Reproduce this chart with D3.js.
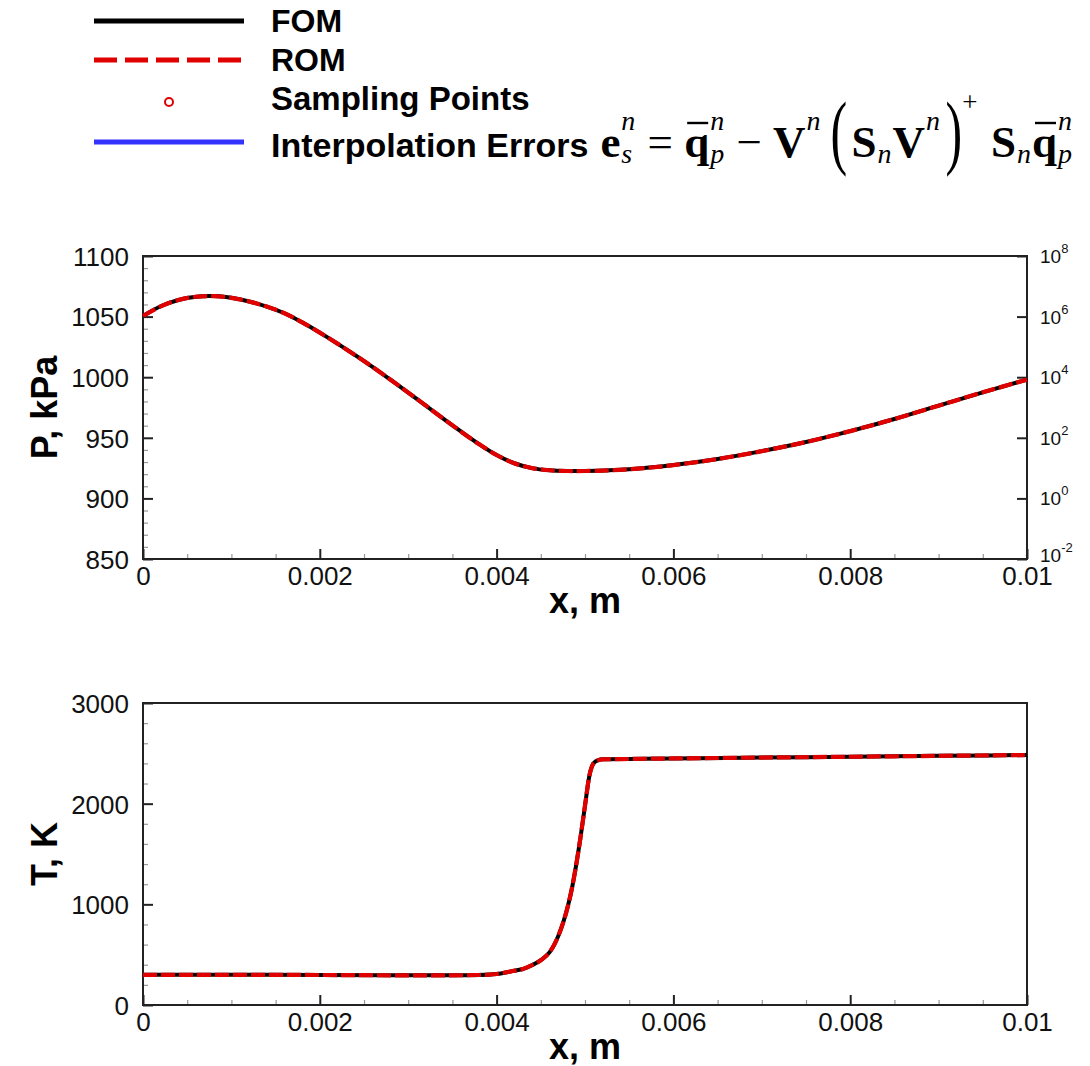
<!DOCTYPE html>
<html><head><meta charset="utf-8">
<script src="https://cdn.jsdelivr.net/npm/d3@7"></script>
<style>body{margin:0;background:#fff} svg{display:block}</style>
</head><body>
<svg id="c" width="1090" height="1066"></svg>
<script>
// ---------------- data ----------------
const pX   = [0,0.0002,0.0004,0.0006,0.0008,0.001,0.0012,0.0014,0.0016,0.0018,0.002,0.0022,0.0024,0.0026,0.0028,0.003,0.0032,0.0034,0.0036,0.0038,0.004,0.0042,0.0044,0.0046,0.0048,0.005,0.0055,0.006,0.0065,0.007,0.0075,0.008,0.0085,0.009,0.0095,0.01];
const pFOM = [1050.5,1058.5,1063.7,1066.4,1066.9,1065.5,1062.5,1058.3,1052.8,1045.3,1036.8,1027.7,1018.2,1008.3,997.9,987.3,976.5,965.6,955,944.8,935.8,929,925,923.2,922.6,922.6,924,927.5,932.5,939,946.5,955.5,965.5,976.5,987.5,998];
const pROM = [1050.5,1058.5,1063.7,1066.4,1066.9,1065.5,1062.5,1058.3,1052.8,1045.3,1036.8,1027.7,1018.2,1008.3,997.9,987.3,976.5,965.6,955,944.8,935.8,929,925,923.2,922.6,922.6,924,927.5,932.5,939,946.5,955.5,965.5,976.5,987.5,998];
const tX   = [0,0.001,0.002,0.003,0.0035,0.0038,0.004,0.0042,0.0043,0.0044,0.0045,0.0046,0.00465,0.0047,0.00475,0.0048,0.00485,0.0049,0.00495,0.005,0.00505,0.0051,0.00515,0.0052,0.0055,0.006,0.007,0.008,0.009,0.01];
const tFOM = [300,300,298,295,295,298,308,340,358,395,445,525,595,690,810,960,1150,1390,1670,1980,2280,2405,2432,2440,2444,2449,2458,2466,2475,2483];
const tROM = [300,300,298,295,295,298,308,340,358,395,445,525,595,690,810,960,1150,1390,1670,1980,2280,2405,2432,2440,2444,2449,2458,2466,2475,2483];
const xTickVals   = [0,0.002,0.004,0.006,0.008,0.01];
const xTickLabels = ["0","0.002","0.004","0.006","0.008","0.01"];
const pTickVals   = [850,900,950,1000,1050,1100];
const tTickVals   = [0,1000,2000,3000];
const errTickExps = [-2,0,2,4,6,8];
const legendLabels = ["FOM","ROM","Sampling Points","Interpolation Errors"];

// ---------------- setup ----------------
const svg = d3.select("#c");
const SANS = "Liberation Sans, Arial, Helvetica, sans-serif";
const SERIF = "Liberation Serif, Times New Roman, serif";
const L = 143, R = 1027;
const panels = [
  {top:256, bottom:559, domain:[850,1100], ticks:pTickVals, minorStep:10, xs:pX, fom:pFOM, rom:pROM, title:"P, kPa", right:true, curve:d3.curveCatmullRom},
  {top:703, bottom:1005, domain:[0,3000], ticks:tTickVals, minorStep:200, xs:tX, fom:tFOM, rom:tROM, title:"T, K", right:false, curve:d3.curveMonotoneX}
];
const AX = "#222";

panels.forEach(pn => {
  const x = d3.scaleLinear().domain([0,0.01]).range([L,R]);
  const y = d3.scaleLinear().domain(pn.domain).range([pn.bottom,pn.top]);
  const g = svg.append("g");

  // minor ticks
  const xMinor = d3.range(0,0.01+1e-9,0.0005).filter(v => Math.abs(v/0.002 - Math.round(v/0.002))>1e-6);
  g.append("g").attr("transform",`translate(0,${pn.bottom})`)
    .call(d3.axisBottom(x).tickValues(xMinor).tickSize(-5).tickSizeOuter(0).tickFormat(""))
    .call(s=>{s.select(".domain").remove(); s.selectAll("line").attr("stroke","#999").attr("stroke-width",1.2);});
  const yMinor = d3.range(pn.domain[0],pn.domain[1]+1e-9,pn.minorStep).filter(v => !pn.ticks.includes(v));
  g.append("g").attr("transform",`translate(${L},0)`)
    .call(d3.axisLeft(y).tickValues(yMinor).tickSize(-5).tickSizeOuter(0).tickFormat(""))
    .call(s=>{s.select(".domain").remove(); s.selectAll("line").attr("stroke","#999").attr("stroke-width",1.2);});

  // major axes
  g.append("g").attr("transform",`translate(0,${pn.bottom})`)
    .call(d3.axisBottom(x).tickValues(xTickVals).tickSize(-10).tickSizeOuter(0).tickPadding(8)
      .tickFormat((d,i)=>xTickLabels[i]))
    .call(s=>{s.select(".domain").remove();
      s.selectAll("line").attr("stroke",AX).attr("stroke-width",2);
      s.selectAll("text").attr("font-family",SANS).attr("font-size",26).attr("fill","#111");});
  g.append("g").attr("transform",`translate(${L},0)`)
    .call(d3.axisLeft(y).tickValues(pn.ticks).tickSize(-10).tickSizeOuter(0).tickPadding(14)
      .tickFormat(d3.format("d")))
    .call(s=>{s.select(".domain").remove();
      s.selectAll("line").attr("stroke",AX).attr("stroke-width",2);
      s.selectAll("text").attr("font-family",SANS).attr("font-size",26).attr("fill","#111").attr("dy","0.36em");});

  if (pn.right) {
    const yr = d3.scaleLog().domain([1e-2,1e8]).range([pn.bottom,pn.top]);
    const vals = errTickExps.map(e=>Math.pow(10,e));
    g.append("g").attr("transform",`translate(${R},0)`)
      .call(d3.axisRight(yr).tickValues(vals).tickSize(-10).tickSizeOuter(0).tickFormat(""))
      .call(s=>{s.select(".domain").remove(); s.selectAll("line").attr("stroke",AX).attr("stroke-width",2);});
    vals.forEach((v,i)=>{
      const t = g.append("text").attr("x",R+13).attr("y",yr(v)+(i===0?3:7))
        .attr("font-family",SANS).attr("font-size",19).attr("fill","#111");
      t.append("tspan").text("10");
      t.append("tspan").attr("font-size",13).attr("dy",-10).text(String(errTickExps[i]));
    });
  }

  // frame
  g.append("rect").attr("x",L).attr("y",pn.top).attr("width",R-L).attr("height",pn.bottom-pn.top)
    .attr("fill","none").attr("stroke",AX).attr("stroke-width",2);

  // curves
  const line = (vals) => d3.line().x((d,i)=>x(pn.xs[i])).y(d=>y(d)).curve(pn.curve)(vals);
  g.append("path").attr("d",line(pn.fom)).attr("fill","none").attr("stroke","#000").attr("stroke-width",4);
  g.append("path").attr("d",line(pn.rom)).attr("fill","none").attr("stroke","#e00000").attr("stroke-width",4.2)
    .attr("stroke-dasharray","14,4");

  // titles
  g.append("text").attr("transform",`translate(57,${(pn.top+pn.bottom)/2}) rotate(-90)`)
    .attr("text-anchor","middle").attr("font-family",SANS).attr("font-weight","bold").attr("font-size",36)
    .attr("fill","#000").text(pn.title);
  g.append("text").attr("x",(L+R)/2).attr("y",pn.bottom+54)
    .attr("text-anchor","middle").attr("font-family",SANS).attr("font-weight","bold").attr("font-size",36)
    .attr("fill","#000").text("x, m");
});

// ---------------- legend ----------------
const lg = svg.append("g");
const ly = [21,60,102,142];
lg.append("line").attr("x1",94).attr("x2",244).attr("y1",ly[0]).attr("y2",ly[0]).attr("stroke","#000").attr("stroke-width",5);
lg.append("line").attr("x1",94).attr("x2",244).attr("y1",ly[1]).attr("y2",ly[1]).attr("stroke","#e00000").attr("stroke-width",5).attr("stroke-dasharray","23,8");
lg.append("circle").attr("cx",169).attr("cy",ly[2]).attr("r",4).attr("fill","none").attr("stroke","#e00000").attr("stroke-width",2);
lg.append("line").attr("x1",94).attr("x2",244).attr("y1",ly[3]).attr("y2",ly[3]).attr("stroke","#3333ff").attr("stroke-width",5);
const lbase = [32,71,110,157], lsize=[32,32,33,34];
let legEnd = 0;
legendLabels.forEach((s,i)=>{
  const t = lg.append("text").attr("x",271).attr("y",lbase[i]).attr("font-family",SANS).attr("font-weight","bold")
    .attr("font-size",lsize[i]).attr("fill","#000").text(s);
  if (i===3) legEnd = 271 + t.node().getComputedTextLength();
});

// ---------------- formula ----------------
const fg = svg.append("g");
const M = 45, SS = 28, FB = 157, SUP = -27, SUB = 6;
function mk(str, o, x, y){
  return fg.append("text").attr("x",x).attr("y",y).text(str)
    .attr("font-family",SERIF).attr("font-size",o.size||M)
    .attr("font-weight",o.bold?"bold":"normal").attr("font-style",o.it?"italic":"normal").attr("fill","#000");
}
function width(str,o){ const t = mk(str,o,0,0); const w = t.node().getComputedTextLength(); t.remove(); return w; }
const items = [
  {t:"e",o:{bold:true}}, {sc:["n","s"]}, {gap:1},
  {t:"=",o:{}}, {gap:1},
  {q:true}, {sc:["n","p"]}, {gap:1},
  {t:"\u2212",o:{}}, {gap:1},
  {t:"V",o:{bold:true}}, {sc:["n",null]}, {gap:0.8},
  {paren:"("}, {gap:0.4},
  {t:"S",o:{bold:true}}, {sc:[null,"n"]}, {t:"V",o:{bold:true}}, {sc:["n",null]}, {gap:0.4},
  {paren:")"}, {t:"+",o:{size:27,dy:-46}}, {gap:1.2},
  {t:"S",o:{bold:true}}, {sc:[null,"n"]}, {q:true}, {sc:["n","p"]}
];
const scO = {size:SS,it:true};
items.forEach(it=>{
  if (it.t) it.w = width(it.t,it.o);
  else if (it.q) it.w = width("q",{bold:true});
  else if (it.sc) it.w = Math.max(it.sc[0]?width(it.sc[0],scO):0, it.sc[1]?width(it.sc[1],scO):0) + 2;
  else if (it.paren) it.w = width(it.paren,{size:50});
  else it.w = 0;
});
const fx0 = legEnd + 12, fx1 = 1073;
const natW = d3.sum(items,d=>d.w), gapU = d3.sum(items,d=>d.gap||0);
const gapPx = Math.max(2,(fx1 - fx0 - natW)/gapU);
let cx = fx0;
items.forEach(it=>{
  if (it.gap) { cx += it.gap*gapPx; return; }
  if (it.t) mk(it.t,it.o,cx,FB+(it.o.dy||0));
  else if (it.q) {
    mk("q",{bold:true},cx,FB);
    fg.append("line").attr("x1",cx+3).attr("x2",cx+it.w-1).attr("y1",FB-34).attr("y2",FB-34)
      .attr("stroke","#000").attr("stroke-width",2.4);
  } else if (it.sc) {
    if (it.sc[0]) mk(it.sc[0],scO,cx+1,FB+SUP);
    if (it.sc[1]) mk(it.sc[1],scO,cx+1,FB+SUB);
  } else if (it.paren) {
    fg.append("text").attr("transform",`translate(${cx},${FB+2}) scale(1,1.65)`)
      .attr("font-family",SERIF).attr("font-size",50).attr("fill","#000").text(it.paren);
  }
  cx += it.w;
});
</script>
</body></html>
